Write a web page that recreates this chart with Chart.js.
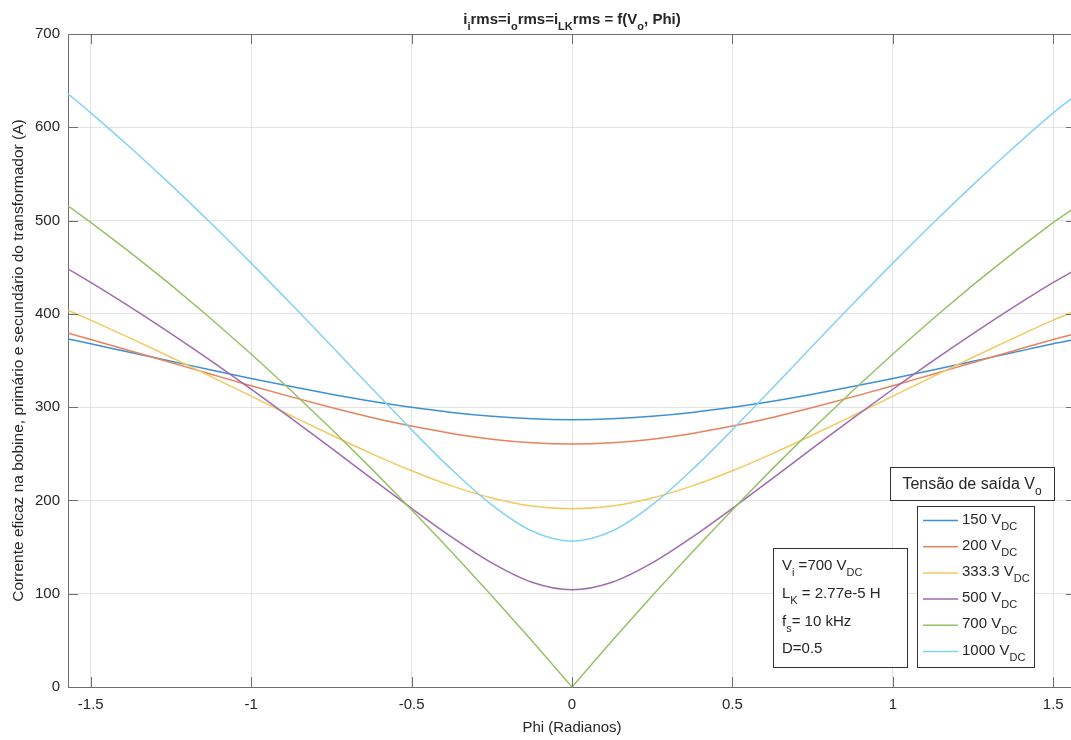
<!DOCTYPE html>
<html>
<head>
<meta charset="utf-8">
<script src="https://cdn.jsdelivr.net/npm/chart.js@4.4.0/dist/chart.umd.min.js"></script>
<style>
    html, body { margin: 0; padding: 0; background: #fff; overflow: hidden; }
    #wrap { width: 1071px; height: 740px; overflow: hidden; position: relative; }
</style>
</head>
<body>
<div id="wrap"><canvas id="rmsChart" width="1085" height="740"></canvas></div>
<script>
// Phase shift (rad) and RMS current (A) for each output voltage
const phi = [-1.5708, -1.5, -1.375, -1.25, -1.125, -1, -0.875, -0.75, -0.625, -0.5, -0.375, -0.25, -0.125, 0,
    0.125, 0.25, 0.375, 0.5, 0.625, 0.75, 0.875, 1, 1.125, 1.25, 1.375, 1.5, 1.5708];

const i150 = [373.1, 367.9, 358.5, 349.2, 339.9, 330.8, 322.1, 313.9, 306.4, 299.8, 294.3, 290.2, 287.5, 286.6,
    287.5, 290.2, 294.3, 299.8, 306.4, 313.9, 322.1, 330.8, 339.9, 349.2, 358.5, 367.9, 372.6];
const i200 = [379.4, 372.5, 360.2, 347.8, 335.3, 322.9, 311.0, 299.6, 289.0, 279.7, 271.8, 265.7, 261.9, 260.5,
    261.9, 265.7, 271.8, 279.7, 289.0, 299.6, 311.0, 322.9, 335.3, 347.8, 360.2, 372.5, 378.9];
const i333 = [404.0, 393.3, 373.7, 353.5, 332.7, 311.8, 290.8, 270.1, 250.2, 231.8, 215.6, 202.7, 194.1, 191.1,
    194.1, 202.7, 215.6, 231.8, 250.2, 270.1, 290.8, 311.8, 332.7, 353.5, 373.7, 393.3, 403.4];
const i500 = [448.3, 433.7, 406.9, 378.8, 349.6, 319.2, 287.9, 256.0, 223.6, 191.5, 160.7, 133.0, 112.3, 104.2,
    112.3, 133.0, 160.7, 191.5, 223.6, 256.0, 287.9, 319.2, 349.6, 378.8, 406.9, 433.7, 447.5];
const i700 = [515.9, 498.1, 465.4, 431.0, 394.8, 357.0, 317.6, 276.6, 234.1, 190.1, 144.7, 97.8, 49.6, 0,
    49.6, 97.8, 144.7, 190.1, 234.1, 276.6, 317.6, 357.0, 394.8, 431.0, 465.4, 498.1, 514.8];
const i1000 = [636.0, 615.5, 577.8, 538.3, 497.1, 454.4, 410.5, 365.7, 320.5, 275.8, 233.1, 195.2, 167.2, 156.3,
    167.2, 195.2, 233.1, 275.8, 320.5, 365.7, 410.5, 454.4, 497.1, 538.3, 577.8, 615.5, 634.5];

const seriesLabels = ['150', '200', '333.3', '500', '700', '1000'];
const seriesValues = [i150, i200, i333, i500, i700, i1000];
const seriesColors = ['#3f90d2', '#e6825c', '#f2c961', '#a06aae', '#95c266', '#84d2f2'];

const xTicks = [-1.5, -1, -0.5, 0, 0.5, 1, 1.5];
const yTicks = [0, 100, 200, 300, 400, 500, 600, 700];

const FONT = '"Liberation Sans", Arial, sans-serif';
const TEXT = '#262626';

// draw text made of [text, isSub] pieces
function drawRich(ctx, parts, x, y, size, bold, align) {
    const w = bold ? 'bold ' : '';
    const subSize = Math.round(size * 0.73);
    let total = 0;
    parts.forEach(p => {
        ctx.font = w + (p[1] ? subSize : size) + 'px ' + FONT;
        total += ctx.measureText(p[0]).width;
    });
    let cx = align === 'center' ? x - total / 2 : x;
    ctx.textAlign = 'left';
    ctx.textBaseline = 'alphabetic';
    ctx.fillStyle = TEXT;
    parts.forEach(p => {
        ctx.font = w + (p[1] ? subSize : size) + 'px ' + FONT;
        ctx.fillText(p[0], cx, p[1] ? y + 6 : y);
        cx += ctx.measureText(p[0]).width;
    });
}

const decorPlugin = {
    id: 'decor',
    afterDraw(chart) {
        const ctx = chart.ctx;
        const a = chart.chartArea;
        const xs = chart.scales.x, ys = chart.scales.y;
        ctx.save();

        // box + inward ticks
        ctx.strokeStyle = '#6e6e6e';
        ctx.lineWidth = 1;
        ctx.beginPath();
        ctx.moveTo(a.left, a.top + 0.5);
        ctx.lineTo(a.right, a.top + 0.5);
        ctx.moveTo(a.right - 0.5, a.top);
        ctx.lineTo(a.right - 0.5, a.bottom);
        xTicks.forEach(v => {
            const px = Math.round(xs.getPixelForValue(v)) + 0.5;
            ctx.moveTo(px, a.bottom); ctx.lineTo(px, a.bottom - 10);
            ctx.moveTo(px, a.top); ctx.lineTo(px, a.top + 10);
        });
        yTicks.forEach(v => {
            const py = Math.round(ys.getPixelForValue(v)) + 0.5;
            ctx.moveTo(a.left, py); ctx.lineTo(a.left + 10, py);
            ctx.moveTo(a.right, py); ctx.lineTo(a.right - 10, py);
        });
        ctx.stroke();

        // title
        drawRich(ctx, [['i', 0], ['i', 1], ['rms=i', 0], ['o', 1], ['rms=i', 0], ['LK', 1],
            ['rms = f(V', 0], ['o', 1], [', Phi)', 0]], 572, 24, 15, true, 'center');

        // legend title box
        ctx.fillStyle = '#fff';
        ctx.fillRect(890, 467, 164, 33);
        ctx.strokeStyle = '#333';
        ctx.strokeRect(890.5, 467.5, 164, 33);
        drawRich(ctx, [['Tensão de saída V', 0], ['o', 1]], 972, 489, 16, false, 'center');

        // legend box
        ctx.fillStyle = '#fff';
        ctx.fillRect(917, 506, 117, 161);
        ctx.strokeStyle = '#333';
        ctx.strokeRect(917.5, 506.5, 117, 161);
        seriesLabels.forEach((lab, i) => {
            const base = 523.5 + i * 26.2;
            ctx.strokeStyle = seriesColors[i];
            ctx.lineWidth = 1.5;
            ctx.beginPath();
            ctx.moveTo(923, base - 3);
            ctx.lineTo(958, base - 3);
            ctx.stroke();
            drawRich(ctx, [[lab + ' V', 0], ['DC', 1]], 962, base, 15, false, 'left');
        });

        // parameters box
        ctx.fillStyle = '#fff';
        ctx.fillRect(773, 548, 134, 119);
        ctx.strokeStyle = '#333';
        ctx.lineWidth = 1;
        ctx.strokeRect(773.5, 548.5, 134, 119);
        drawRich(ctx, [['V', 0], ['i', 1], [' =700 V', 0], ['DC', 1]], 782, 570, 15, false, 'left');
        drawRich(ctx, [['L', 0], ['K', 1], [' = 2.77e-5 H', 0]], 782, 598, 15, false, 'left');
        drawRich(ctx, [['f', 0], ['s', 1], ['= 10 kHz', 0]], 782, 626, 15, false, 'left');
        drawRich(ctx, [['D=0.5', 0]], 782, 653, 15, false, 'left');

        ctx.restore();
    }
};

Chart.defaults.font.family = FONT;
Chart.defaults.font.size = 15;
Chart.defaults.color = TEXT;

const datasets = seriesValues.map((vals, i) => ({
    label: seriesLabels[i] + ' VDC',
    data: phi.map((p, k) => ({ x: p, y: vals[k] })),
    borderColor: seriesColors[i],
    backgroundColor: seriesColors[i],
    borderWidth: 1.5,
    pointRadius: 0,
    fill: false,
    cubicInterpolationMode: seriesLabels[i] === '700' ? 'default' : 'monotone',
    tension: 0,
    order: seriesLabels.length - i
}));

new Chart(document.getElementById('rmsChart'), {
    type: 'line',
    data: { datasets: datasets },
    options: {
        responsive: false,
        animation: false,
        layout: { padding: { top: 34, right: 9, left: 0, bottom: 0 } },
        plugins: {
            legend: { display: false },
            title: { display: false },
            tooltip: { enabled: false }
        },
        scales: {
            x: {
                type: 'linear',
                min: -1.5708,
                max: 1.5708,
                afterBuildTicks: s => { s.ticks = xTicks.map(v => ({ value: v })); },
                afterFit: s => { s.height = 53; },
                ticks: {
                    padding: 9,
                    maxRotation: 0,
                    callback: v => String(v)
                },
                grid: { color: '#e3e3e3', drawTicks: false },
                border: { color: '#6e6e6e', width: 1 },
                title: {
                    display: true,
                    text: 'Phi (Radianos)',
                    font: { size: 15 },
                    padding: { top: 0, bottom: 3 }
                }
            },
            y: {
                min: 0,
                max: 700,
                afterBuildTicks: s => { s.ticks = yTicks.map(v => ({ value: v })); },
                afterFit: s => { s.width = 68; },
                ticks: { padding: 8 },
                grid: { color: '#e3e3e3', drawTicks: false },
                border: { color: '#6e6e6e', width: 1 },
                title: {
                    display: true,
                    text: 'Corrente eficaz na bobine, primário e secundário do transformador (A)',
                    font: { size: 15.5 },
                    padding: { top: 9, bottom: 0 }
                }
            }
        }
    },
    plugins: [decorPlugin]
});
</script>
</body>
</html>
